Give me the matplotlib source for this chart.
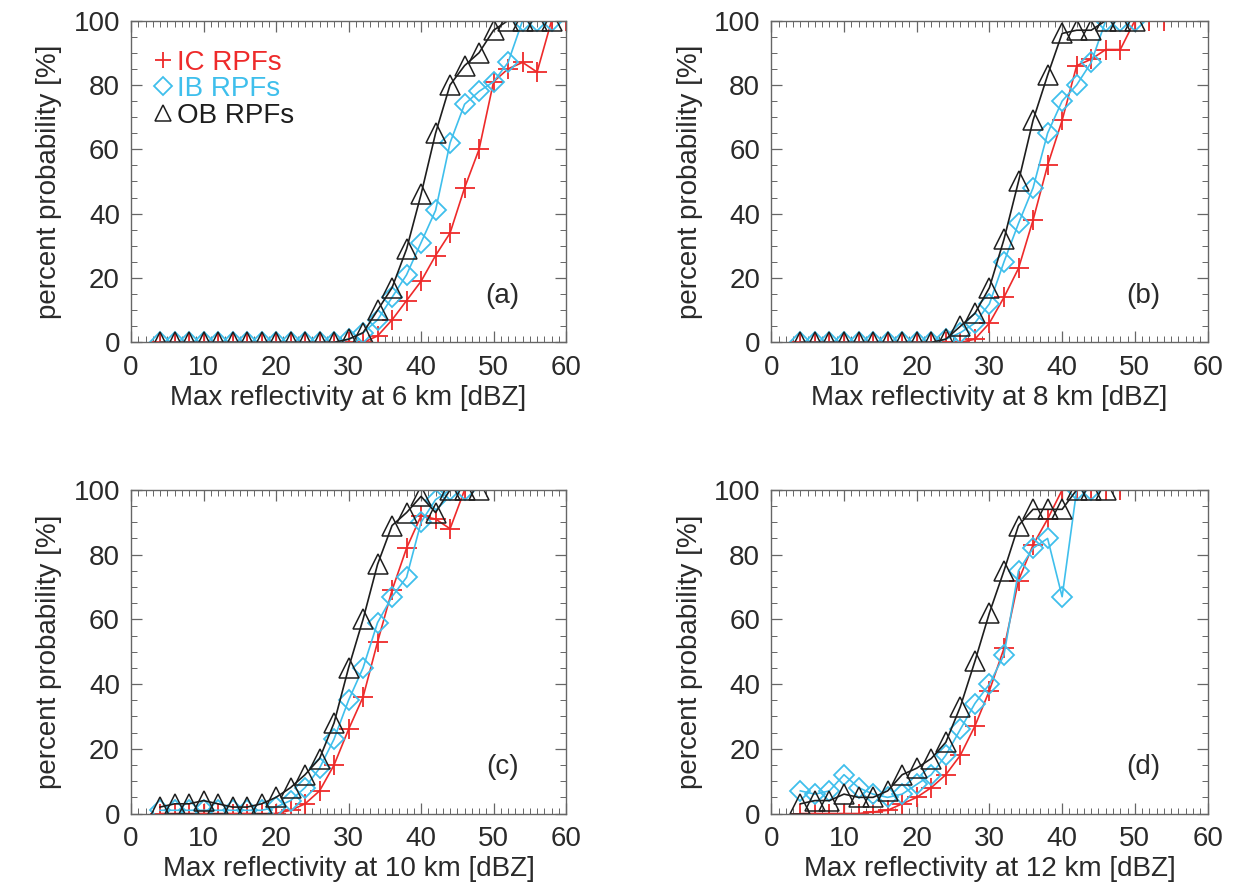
import matplotlib
matplotlib.use('Agg')
import matplotlib.pyplot as plt
import matplotlib.ticker as pltick
from matplotlib.lines import Line2D

plt.rcParams['font.family'] = ['Liberation Sans', 'DejaVu Sans']

# reflectivity bins (dBZ), shared by all panels
x_bins = list(range(4, 62, 2))

# panel (a): 6 km
ic_6 = [0]*14 + [0, 2, 7, 13, 19, 27, 34, 48, 60, 81, 85, 87, 84, 100, 100]
ib_6 = [0]*13 + [1, 3, 7, 14, 21, 31, 41, 62, 74, 78, 81, 87, 100, 100, 100]
ob_6 = [0]*13 + [1, 3, 10, 17, 29, 46, 65, 80, 86, 90, 97, 100, 100, 100, 100]

# panel (b): 8 km
ic_8 = [0]*12 + [1, 6, 14, 23, 38, 55, 69, 86, 88, 91, 91, 100, 100, 100]
ib_8 = [0]*10 + [1, 3, 6, 12, 25, 37, 48, 65, 75, 80, 87, 100, 100, 100]
ob_8 = [0]*10 + [1, 5, 9, 17, 32, 50, 69, 83, 96, 97, 97, 100, 100, 100]

# panel (c): 10 km
ic_10 = [0]*9 + [1, 3, 7, 15, 26, 36, 53, 69, 82, 92, 91, 88, 100]
ib_10 = [1, 1, 1, 1, 1, 1, 1, 1, 2, 4, 8, 14, 23, 35, 45, 59, 67, 73, 90, 97, 100, 100]
ob_10 = [2, 3, 3, 4, 3, 2, 2, 3, 5, 8, 12, 17, 28, 45, 60, 77, 89, 93, 98, 93, 100, 100, 100]

# panel (d): 12 km
ic_12 = [0, 0, 0, 0, 0, 0.5, 1, 3, 5, 8, 12, 18, 27, 38, 51, 72, 83, 91, 100, 100, 100, 100, 100]
ib_12 = [7, 6, 7, 12, 8, 6, 5, 6, 9, 12, 18, 26, 34, 40, 49, 75, 82, 85, 67, 100, 100]
ob_12 = [3, 4, 4, 6, 5, 5, 7, 12, 14, 17, 22, 33, 47, 62, 75, 89, 94, 94, 94, 100, 100, 100]

heights = ['6', '8', '10', '12']
panel_tags = ['(a)', '(b)', '(c)', '(d)']
ic_all = [ic_6, ic_8, ic_10, ic_12]
ib_all = [ib_6, ib_8, ib_10, ib_12]
ob_all = [ob_6, ob_8, ob_10, ob_12]

red = '#ee2a2a'
cyan = '#3fbfec'
black = '#1e1e1e'
txt = '#2a2a2a'
fs = 20

fig = plt.figure(figsize=(12.36, 8.94), dpi=100)
boxes = [[0.106, 0.617, 0.352, 0.360],
         [0.624, 0.617, 0.353, 0.360],
         [0.106, 0.090, 0.352, 0.362],
         [0.624, 0.090, 0.353, 0.362]]

for i, box in enumerate(boxes):
    ax = fig.add_axes(box)
    ic, ib, ob = ic_all[i], ib_all[i], ob_all[i]
    ax.plot(x_bins[:len(ic)], ic, color=red, lw=1.2, marker='+', ms=15, mew=1.3)
    ax.plot(x_bins[:len(ib)], ib, color=cyan, lw=1.2, marker='D', ms=10,
            mfc='none', mec=cyan, mew=1.3)
    ax.plot(x_bins[:len(ob)], ob, color=black, lw=1.2, marker='^', ms=14.5,
            mfc='none', mec=black, mew=1.1)

    ax.set_xlim(0, 60)
    ax.set_ylim(0, 100)
    ax.xaxis.set_major_locator(pltick.MultipleLocator(10))
    ax.xaxis.set_minor_locator(pltick.MultipleLocator(1))
    ax.yaxis.set_major_locator(pltick.MultipleLocator(20))
    ax.yaxis.set_minor_locator(pltick.MultipleLocator(5))
    ax.tick_params(which='both', direction='in', top=True, right=True,
                   colors='#666666', labelcolor=txt, labelsize=fs)
    ax.tick_params(which='major', length=8, width=0.9)
    ax.tick_params(which='minor', length=4, width=0.7)
    ax.tick_params(axis='x', which='major', pad=9)
    ax.tick_params(axis='y', which='major', pad=8)
    for s in ax.spines.values():
        s.set_color('#666666')
        s.set_linewidth(1.0)
    # IDL-style: the zero label sits a little above the bottom axis
    ax.yaxis.get_major_ticks()[0].label1.set_verticalalignment('bottom')

    ax.set_xlabel('Max reflectivity at ' + heights[i] + ' km [dBZ]',
                  fontsize=fs, color=txt, labelpad=3)
    ax.set_ylabel('percent probability [%]', fontsize=fs, color=txt, labelpad=8)
    ax.text(51.2, 14.5, panel_tags[i], ha='center', va='center', fontsize=fs, color=txt)

    if i == 0:
        handles = [Line2D([], [], ls='none', marker='+', ms=12, mew=1.3, color=red),
                   Line2D([], [], ls='none', marker='D', ms=9, mfc='none', mew=1.3, color=cyan),
                   Line2D([], [], ls='none', marker='^', ms=11, mfc='none', mew=1.1, color=black)]
        ax.legend(handles, ['IC RPFs', 'IB RPFs', 'OB RPFs'], loc='upper left',
                  bbox_to_anchor=(0.055, 0.91), frameon=False, fontsize=fs,
                  handlelength=0.6, handletextpad=0.2, labelspacing=0.02,
                  borderpad=0, borderaxespad=0, labelcolor='markeredgecolor')

plt.savefig('out.png', dpi=100)
